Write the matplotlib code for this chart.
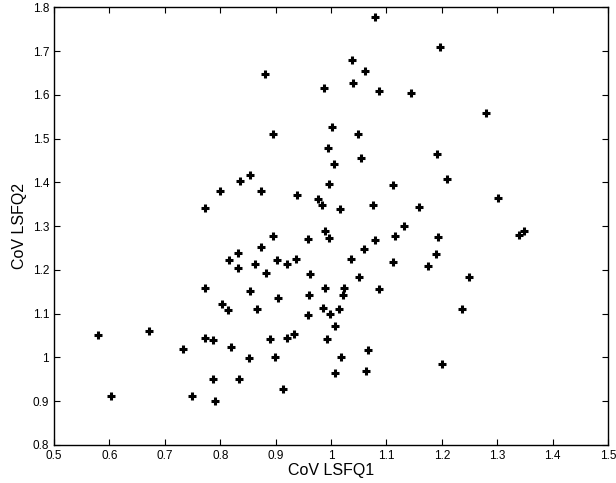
import numpy as np
import matplotlib
matplotlib.use("Agg")
import matplotlib.pyplot as plt
from matplotlib.ticker import FuncFormatter

# CoV values
cov_lsfq1 = [
    1.080, 1.197, 1.037, 1.061, 0.881, 1.039, 0.988, 1.087, 1.144, 1.280,
    1.002, 0.895, 1.049, 0.995, 1.055, 1.192, 1.005, 0.853, 0.836, 1.209,
    0.800, 0.874, 0.997, 1.112, 0.939, 1.302, 0.977, 0.983, 1.076, 0.773,
    1.017, 1.159, 1.131, 1.339, 1.348, 0.990, 0.895, 0.996, 1.116, 1.194,
    0.959, 1.079, 0.874, 1.060, 0.833, 1.190, 1.036, 0.816, 0.903, 0.936,
    0.862, 0.920, 0.833, 1.112, 1.175, 0.883, 0.962, 1.051, 1.250, 0.773,
    0.990, 1.023, 1.087, 0.854, 0.960, 1.021, 0.905, 0.803, 0.814, 0.866,
    0.985, 1.015, 1.236, 0.958, 0.998, 1.008, 0.580, 0.672, 0.773, 0.787,
    0.933, 0.920, 0.890, 0.993, 0.732, 0.820, 1.066, 0.852, 0.899, 1.018,
    1.201, 1.007, 1.064, 0.787, 0.834, 0.913, 0.602, 0.749, 0.790,
]
cov_lsfq2 = [
    1.779, 1.710, 1.679, 1.654, 1.649, 1.628, 1.617, 1.609, 1.605, 1.559,
    1.527, 1.511, 1.510, 1.479, 1.457, 1.465, 1.443, 1.416, 1.403, 1.409,
    1.381, 1.381, 1.397, 1.394, 1.372, 1.365, 1.362, 1.348, 1.349, 1.342,
    1.340, 1.344, 1.301, 1.279, 1.289, 1.289, 1.277, 1.273, 1.277, 1.275,
    1.270, 1.269, 1.253, 1.247, 1.239, 1.237, 1.226, 1.222, 1.223, 1.226,
    1.214, 1.213, 1.205, 1.219, 1.209, 1.193, 1.191, 1.183, 1.184, 1.159,
    1.159, 1.159, 1.156, 1.151, 1.143, 1.142, 1.137, 1.123, 1.109, 1.110,
    1.112, 1.110, 1.110, 1.098, 1.099, 1.072, 1.052, 1.060, 1.044, 1.039,
    1.053, 1.045, 1.042, 1.043, 1.020, 1.023, 1.017, 0.998, 1.000, 1.000,
    0.985, 0.965, 0.970, 0.950, 0.951, 0.927, 0.911, 0.911, 0.901,
]

plt.rcParams['font.family'] = ['Liberation Sans', 'DejaVu Sans']

fig = plt.figure(figsize=(6.16, 4.83), dpi=100)
ax = fig.add_axes([0.0877, 0.0787, 0.8993, 0.9058])

ax.plot(cov_lsfq1, cov_lsfq2, linestyle='none', marker='+', color='black',
        markersize=6, markeredgewidth=2.2)

ax.set_xlim(0.5, 1.5)
ax.set_ylim(0.8, 1.8)
ax.set_xticks(np.arange(0.5, 1.51, 0.1))
ax.set_yticks(np.arange(0.8, 1.81, 0.1))
# matlab-style labels: "1" instead of "1.0"
fmt = FuncFormatter(lambda v, p: "%d" % round(v) if abs(v - round(v)) < 1e-9 else "%.1f" % v)
ax.xaxis.set_major_formatter(fmt)
ax.yaxis.set_major_formatter(fmt)
ax.tick_params(direction='in', top=True, right=True, labelsize=8.5, length=4, width=0.8)
for s in ax.spines.values():
    s.set_linewidth(1.0)

ax.set_xlabel("CoV LSFQ1", fontsize=11.5, labelpad=1)
ax.set_ylabel("CoV LSFQ2", fontsize=11.5, labelpad=4)

fig.savefig("out.png", dpi=100)
